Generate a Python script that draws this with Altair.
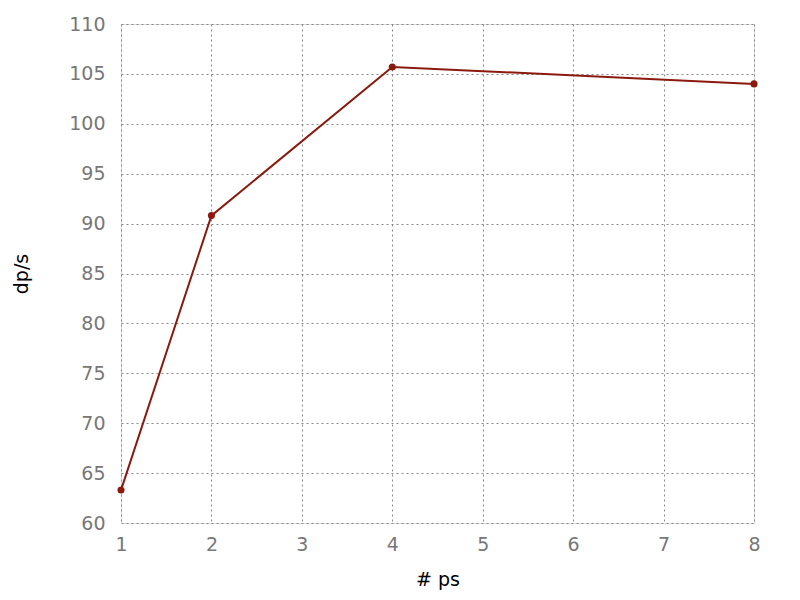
import altair as alt
import pandas as pd

ps = [1, 2, 4, 8]
dps = [63.3, 90.8, 105.7, 104.0]

df = pd.DataFrame({"ps": ps, "dps": dps})

color = "#8b1a0e"

base = alt.Chart(df)

line = base.mark_line(color=color, strokeWidth=2).encode(
    x=alt.X("ps:Q", scale=alt.Scale(domain=[1, 8], nice=False),
            axis=alt.Axis(title="# ps", values=[1, 2, 3, 4, 5, 6, 7, 8], format="d",
                          grid=True, gridDash=[2, 3], gridColor="#888", gridWidth=1,
                          domain=False, ticks=False, labelColor="#777", labelFontSize=19,
                          labelFont="DejaVu Sans", labelPadding=12, labelFlush=False,
                          titleFont="DejaVu Sans", titleFontSize=19, titleFontWeight="normal",
                          titleColor="#000", titlePadding=16)),
    y=alt.Y("dps:Q", scale=alt.Scale(domain=[60, 110], nice=False, zero=False),
            axis=alt.Axis(title="dp/s", values=list(range(60, 111, 5)),
                          grid=True, gridDash=[2, 3], gridColor="#888", gridWidth=1,
                          domain=False, ticks=False, labelColor="#777", labelFontSize=19,
                          labelFont="DejaVu Sans", labelPadding=16, labelFlush=False,
                          titleFont="DejaVu Sans", titleFontSize=19, titleFontWeight="normal",
                          titleColor="#000", titlePadding=37)),
)

points = base.mark_point(color=color, filled=True, shape="circle", size=50, opacity=1).encode(
    x="ps:Q", y="dps:Q"
)

chart = (line + points).properties(
    width=633, height=499,
    autosize=alt.AutoSizeParams(type="none"),
    padding={"left": 113, "top": 16, "right": 30, "bottom": 70},
).configure_view(stroke="#666", strokeWidth=1).configure(background="white")

chart.save("out.html", embed_options={"renderer": "svg", "actions": False})
